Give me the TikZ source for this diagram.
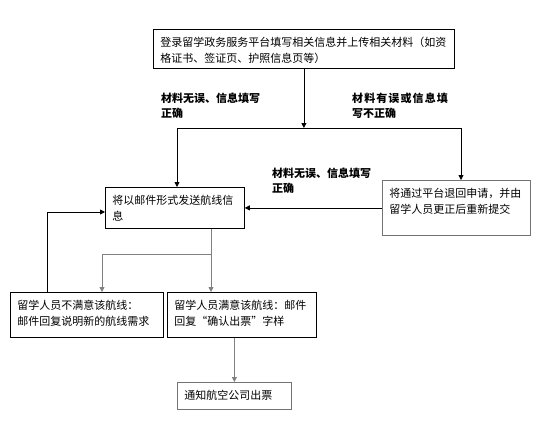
\documentclass[tikz,border=0pt]{standalone}
\usepackage{fontspec}
\setmainfont{Noto Sans CJK SC}
\usepackage{tikz}
\usetikzlibrary{arrows.meta, positioning}
\tikzset{%
	every box/.style={
		draw,
		line width=0.8pt,
		inner xsep=7pt,
		inner ysep=8pt,
		anchor=north west,
		align=left,
		font=\fontsize{11}{15.5}\selectfont
	},
	pale box/.style={
		every box,
		draw=black!55
	},
	branch label/.style={
		anchor=north west,
		inner sep=0pt,
		align=left,
		font=\fontsize{11}{15}\selectfont\bfseries
	},
	flow/.style={
		line width=0.8pt,
		-{Triangle[length=5pt,width=5pt]}
	},
	both flow/.style={
		line width=0.8pt,
		{Triangle[length=5pt,width=5pt]}-{Triangle[length=5pt,width=5pt]}
	},
	grey flow/.style={
		flow,
		draw=black!50
	},
}
% box text: width, height, text
\newcommand{\boxcontent}[3]{\parbox[c][#2][t]{#1}{#3}}

\begin{document}
\begin{tikzpicture}[x=1pt, y=-1pt]
	\useasboundingbox (0,0) rectangle (554,439);
	
	% boxes
	\node[every box] (login) at (153,29) {\boxcontent{287pt}{23pt}{登录留学政务服务平台填写相关信息并上传相关材料（如资\\格证书、签证页、护照信息页等）}};
	\node[every box] (mail) at (105,187) {\boxcontent{125pt}{25pt}{将以邮件形式发送航线信\\息}};
	\node[pale box] (back) at (382,180) {\boxcontent{134pt}{39pt}{将通过平台退回申请，并由\\留学人员更正后重新提交}};
	\node[every box] (no) at (10,292) {\boxcontent{139pt}{29pt}{留学人员不满意该航线：\\邮件回复说明新的航线需求}};
	\node[every box] (yes) at (167,292) {\boxcontent{135pt}{29pt}{留学人员满意该航线：邮件\\回复“确认出票”字样}};
	\node[pale box] (final) at (177,382) {\boxcontent{100pt}{11pt}{通知航空公司出票}};
	
	% branch labels
	\node[branch label] (ok label) at (161,93) {材料无误、信息填写\\正确};
	\node[branch label] (err label) at (352,93) {\addfontfeature{LetterSpace=10}材料有误或信息填\\写不正确};
	\node[branch label] (resubmit label) at (272,168) {材料无误、信息填写\\正确};
	
	% turning points
	\coordinate (split) at (login.south |- 0,128);
	\coordinate (split left) at (177,128);
	\coordinate (split right) at (461,128);
	\coordinate (fork) at (211,254);
	\coordinate (fork left) at (102,254);
	\coordinate (retry) at (47,212);
	
	% connectors
	\draw[flow] (login) -- (split);
	\draw[both flow] (split left |- mail.north) -- (split left) -- (split right) -- (split right |- back.north);
	\draw[flow] (back.west) -- (back.west -| mail.east);
	\draw[grey flow] (fork |- mail.south) -- (fork) -- (fork left) -- (fork left |- no.north);
	\draw[grey flow] (fork) -- (fork |- yes.north);
	\draw[flow] (retry |- no.north) -- (retry) -- (retry -| mail.west);
	\draw[grey flow] (final.north |- yes.south) -- (final.north);
\end{tikzpicture}
\end{document}
